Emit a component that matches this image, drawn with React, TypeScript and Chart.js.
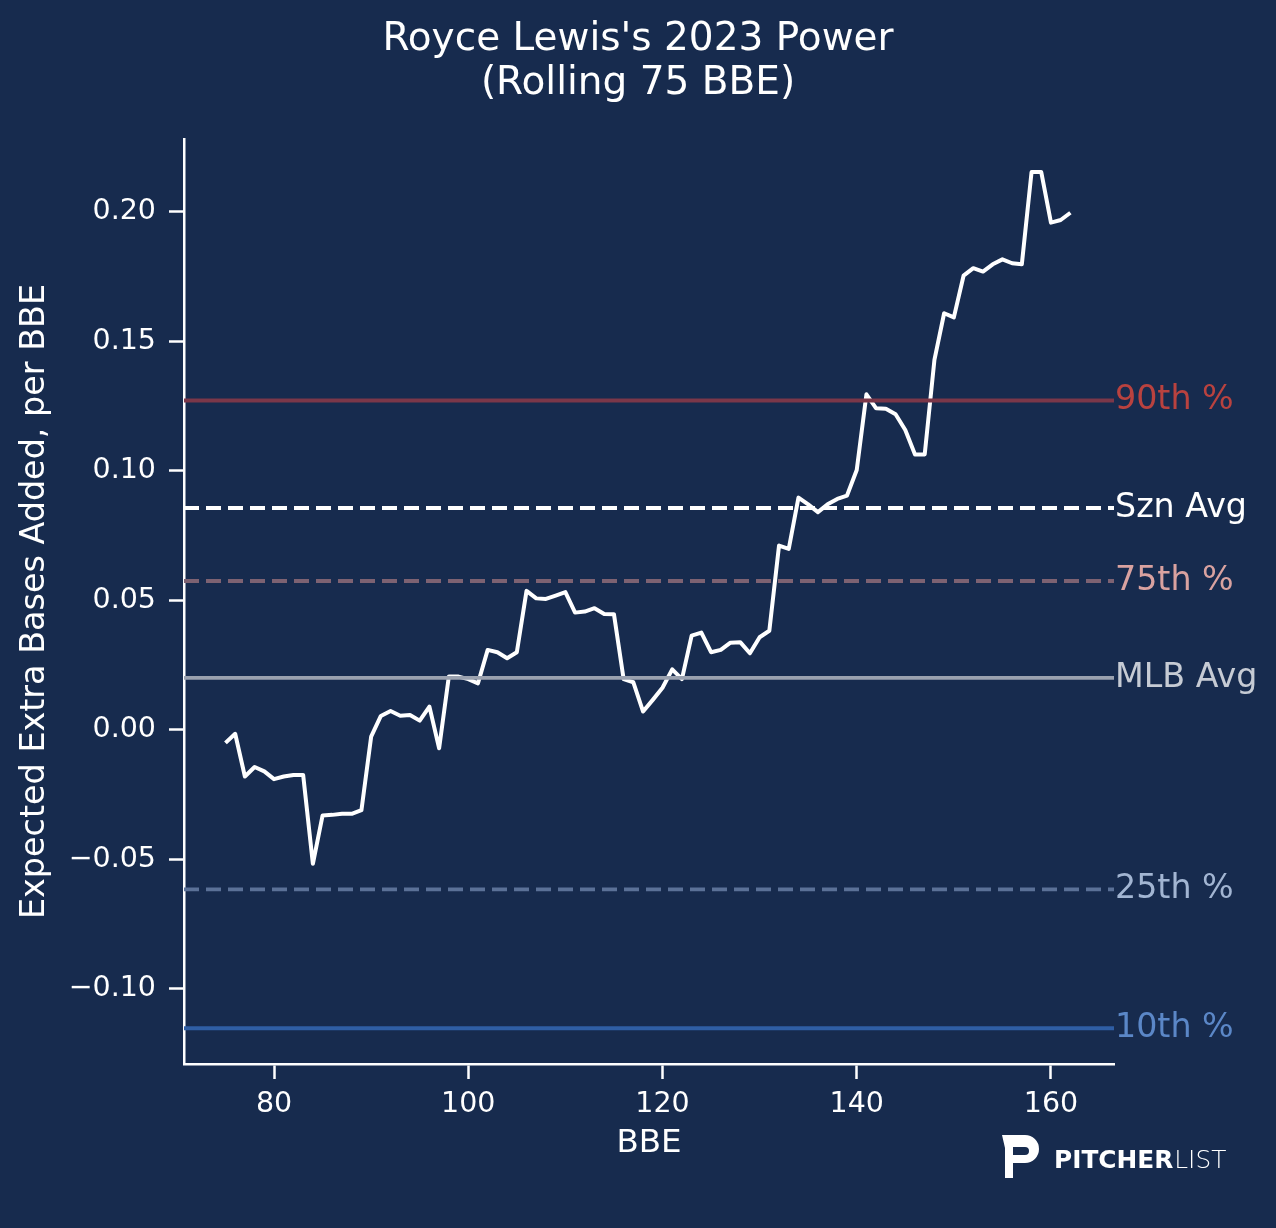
import { useEffect, useRef } from "react";
import Chart from "chart.js/auto";

// rolling 75 BBE window, x = BBE count
const bbe = [
  75, 76, 77, 78, 79, 80, 81, 82, 83, 84, 85, 86, 87, 88, 89, 90, 91, 92, 93, 94, 95, 96,
  97, 98, 99, 100, 101, 102, 103, 104, 105, 106, 107, 108, 109, 110, 111, 112, 113, 114,
  115, 116, 117, 118, 119, 120, 121, 122, 123, 124, 125, 126, 127, 128, 129, 130, 131,
  132, 133, 134, 135, 136, 137, 138, 139, 140, 141, 142, 143, 144, 145, 146, 147, 148,
  149, 150, 151, 152, 153, 154, 155, 156, 157, 158, 159, 160, 161, 162,
];

const xeba = [
  -0.005, -0.0015, -0.018, -0.0143, -0.016, -0.019, -0.018, -0.0174, -0.0174, -0.0517,
  -0.033, -0.0328, -0.0324, -0.0324, -0.031, -0.0026, 0.0054, 0.0073, 0.0055, 0.0058,
  0.0036, 0.009, -0.0071, 0.0206, 0.0206, 0.0196, 0.018, 0.0309, 0.03, 0.0277, 0.03,
  0.0537, 0.0508, 0.0506, 0.0519, 0.0532, 0.0453, 0.0457, 0.047, 0.0448, 0.0447, 0.0196,
  0.0184, 0.0071, 0.0116, 0.0163, 0.0234, 0.0196, 0.0364, 0.0376, 0.03, 0.0309, 0.0337,
  0.0339, 0.0296, 0.0358, 0.0383, 0.0712, 0.0699, 0.0897, 0.0871, 0.0841, 0.0871, 0.0892,
  0.0905, 0.1004, 0.1296, 0.1242, 0.124, 0.1219, 0.1158, 0.1064, 0.1064, 0.1429, 0.1609,
  0.1593, 0.1754, 0.1783, 0.177, 0.1798, 0.1817, 0.1802, 0.1798, 0.2154, 0.2154, 0.1959,
  0.1969, 0.1997,
];

const refNames = ["90th %", "Szn Avg", "75th %", "MLB Avg", "25th %", "10th %"];
const refValues = [0.1272, 0.0857, 0.0575, 0.0201, -0.0616, -0.1152];
const refLineColors = ["#7b3749", "#ffffff", "#7d6272", "#9aa1af", "#5b7197", "#2f5ea4"];
const refTextColors = ["#b9423f", "#ffffff", "#d9a2a0", "#c6cbd4", "#a2b5d2", "#5b87c7"];
const refDashed = [false, true, true, false, true, false];

const xTicks = [80, 100, 120, 140, 160];
const yTicks = [-0.1, -0.05, 0, 0.05, 0.1, 0.15, 0.2];

const X_MIN = 70.73;
const X_MAX = 166.49;
const Y_MIN = -0.129;
const Y_MAX = 0.2282;

const BG = "#172b4e";
const FONT = "'DejaVu Sans', sans-serif";

const refLabels = {
  id: "refLabels",
  afterDatasetsDraw(chart: any) {
    const { ctx, chartArea, scales } = chart;
    ctx.save();
    ctx.font = `33.3px ${FONT}`;
    ctx.textAlign = "left";
    ctx.textBaseline = "middle";
    refNames.forEach((name, i) => {
      ctx.fillStyle = refTextColors[i];
      ctx.fillText(name, chartArea.right + 1, scales.y.getPixelForValue(refValues[i]));
    });
    ctx.restore();
  },
};

const logo = {
  id: "logo",
  afterDraw(chart: any) {
    const ctx = chart.ctx;
    ctx.save();
    ctx.fillStyle = "#ffffff";
    // P icon
    ctx.beginPath();
    ctx.moveTo(1002, 1135);
    ctx.lineTo(1025, 1135);
    ctx.arc(1025, 1149, 14, -Math.PI / 2, Math.PI / 2);
    ctx.lineTo(1013, 1163);
    ctx.lineTo(1013, 1178);
    ctx.lineTo(1005, 1178);
    ctx.lineTo(1005, 1148);
    ctx.closePath();
    ctx.moveTo(1013, 1147);
    ctx.lineTo(1013, 1155);
    ctx.lineTo(1025, 1155);
    ctx.arc(1025, 1151, 4, Math.PI / 2, -Math.PI / 2, true);
    ctx.closePath();
    ctx.fill("evenodd");
    // wordmark
    ctx.textBaseline = "alphabetic";
    ctx.textAlign = "left";
    ctx.font = `bold 24.8px ${FONT}`;
    ctx.fillText("PITCHER", 1054, 1168);
    const w = ctx.measureText("PITCHER").width;
    ctx.font = `200 24.8px ${FONT}`;
    ctx.fillText("LIST", 1055 + w, 1168);
    ctx.restore();
  },
};

export default function App() {
  const canvasRef = useRef<HTMLCanvasElement>(null);

  useEffect(() => {
    document.body.style.margin = "0";
    document.body.style.background = BG;
    if (!canvasRef.current) return;

    const refSets = refNames.map((name, i) => ({
      label: name,
      data: [
        { x: X_MIN, y: refValues[i] },
        { x: X_MAX, y: refValues[i] },
      ],
      borderColor: refLineColors[i],
      borderWidth: 3.8,
      borderDash: refDashed[i] ? [15, 7] : [],
      borderCapStyle: "butt" as const,
      pointRadius: 0,
      order: 1,
    }));

    const chart = new Chart(canvasRef.current, {
      type: "line",
      data: {
        datasets: [
          {
            label: "xEBA",
            data: bbe.map((b, i) => ({ x: b, y: xeba[i] })),
            borderColor: "#ffffff",
            borderWidth: 4,
            borderJoinStyle: "round",
            pointRadius: 0,
            tension: 0,
            order: 2,
          },
          ...refSets,
        ],
      },
      options: {
        animation: false,
        responsive: false,
        devicePixelRatio: 1,
        layout: { padding: { left: 0, right: 0, top: 0, bottom: 0 } },
        plugins: {
          legend: { display: false },
          tooltip: { enabled: false },
          title: {
            display: true,
            text: ["Royce Lewis's 2023 Power", "(Rolling 75 BBE)"],
            color: "#ffffff",
            font: { family: FONT, size: 39, weight: "normal", lineHeight: 1.12 },
            padding: { top: 18, bottom: 33.6 },
          },
        },
        scales: {
          x: {
            type: "linear",
            min: X_MIN,
            max: X_MAX,
            afterBuildTicks: (s: any) => {
              s.ticks = xTicks.map((v) => ({ value: v }));
            },
            afterFit: (s: any) => {
              s.height = 164;
            },
            grid: {
              drawOnChartArea: false,
              drawTicks: true,
              tickLength: 15,
              tickWidth: 2.5,
              tickColor: "#ffffff",
            },
            border: { display: true, color: "#ffffff", width: 2.5 },
            ticks: {
              color: "#ffffff",
              font: { family: FONT, size: 28.5 },
              padding: 8,
              callback: (v: any) => String(v),
            },
            title: {
              display: true,
              text: "BBE",
              color: "#ffffff",
              font: { family: FONT, size: 32.5, lineHeight: 1.2 },
              padding: { top: 0, bottom: 65 },
            },
          },
          y: {
            type: "linear",
            min: Y_MIN,
            max: Y_MAX,
            afterBuildTicks: (s: any) => {
              s.ticks = yTicks.map((v) => ({ value: v }));
            },
            afterFit: (s: any) => {
              s.width = 184;
            },
            grid: {
              drawOnChartArea: false,
              drawTicks: true,
              tickLength: 15,
              tickWidth: 2.5,
              tickColor: "#ffffff",
            },
            border: { display: true, color: "#ffffff", width: 2.5 },
            ticks: {
              color: "#ffffff",
              font: { family: FONT, size: 28.5 },
              padding: 13,
              callback: (v: any) => Number(v).toFixed(2).replace("-", "\u2212"),
            },
            title: {
              display: true,
              text: "Expected Extra Bases Added, per BBE",
              color: "#ffffff",
              font: { family: FONT, size: 33.4, lineHeight: 1.2 },
              padding: { top: 15, bottom: 0 },
            },
          },
          // empty right-hand box that keeps room for the reference labels
          side: {
            type: "linear",
            position: "right",
            min: Y_MIN,
            max: Y_MAX,
            afterFit: (s: any) => {
              s.width = 162;
            },
            grid: { display: false },
            border: { display: false },
            ticks: { display: false },
          },
        },
      },
      plugins: [refLabels, logo],
    });

    return () => chart.destroy();
  }, []);

  return (
    <div style={{ position: "absolute", left: 0, top: 0, width: 1276, height: 1228, background: BG }}>
      <canvas ref={canvasRef} width={1276} height={1228} />
    </div>
  );
}
